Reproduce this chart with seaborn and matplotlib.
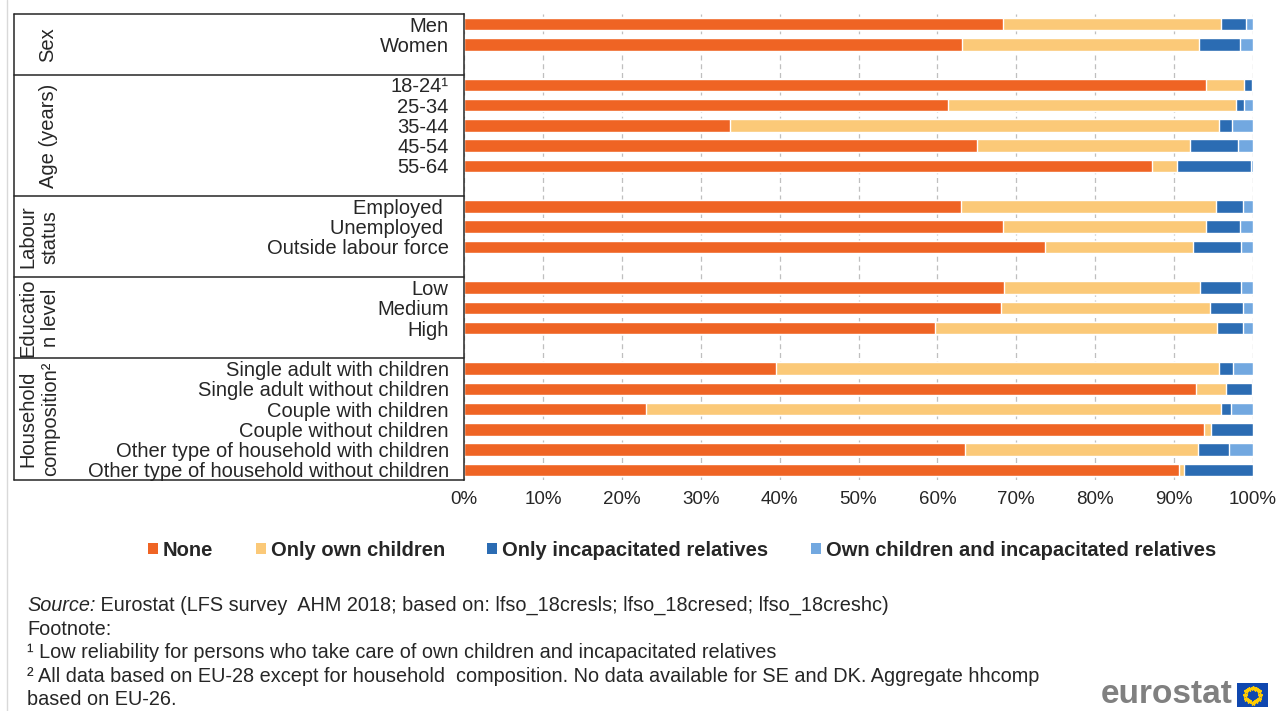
import numpy as np
import pandas as pd
import matplotlib
matplotlib.use("Agg")
import matplotlib.pyplot as plt
import matplotlib.transforms as mtransforms
from matplotlib.lines import Line2D
from matplotlib.patches import Patch, Rectangle
import seaborn as sns

# ---- data -------------------------------------------------------------
group_titles = ["Sex", "Age (years)", "Labour\nstatus", "Educatio\nn level",
                "Household\ncomposition²"]
sex = ["Men", "Women"]
age = ["18-24¹", "25-34", "35-44", "45-54", "55-64"]
labour = ["Employed ", "Unemployed ", "Outside labour force"]
education = ["Low", "Medium", "High"]
household = ["Single adult with children", "Single adult without children",
             "Couple with children", "Couple without children",
             "Other type of household with children",
             "Other type of household without children"]
group_members = [sex, age, labour, education, household]

series_names = ["None", "Only own children", "Only incapacitated relatives",
                "Own children and incapacitated relatives"]
series_colors = ["#EF6424", "#FBC978", "#2B6CB3", "#72A8E0"]

none_share = [68.3, 63.1, 94.1, 61.3, 33.7, 65.0, 87.2, 63.0, 68.3, 73.7,
              68.5, 68.0, 59.7, 39.6, 92.8, 23.1, 93.8, 63.5, 90.6]
own_children = [27.6, 30.0, 4.8, 36.6, 62.0, 27.0, 3.2, 32.3, 25.8, 18.7,
                24.8, 26.6, 35.7, 56.1, 3.8, 72.8, 0.9, 29.5, 0.7]
incapacitated = [3.2, 5.3, 1.0, 1.0, 1.7, 6.1, 9.3, 3.4, 4.3, 6.1,
                 5.2, 4.1, 3.3, 1.8, 3.3, 1.3, 5.3, 4.0, 8.7]
children_and_relatives = [0.9, 1.6, 0.1, 1.1, 2.6, 1.9, 0.3, 1.3, 1.6, 1.5,
                          1.5, 1.3, 1.3, 2.5, 0.1, 2.8, 0.0, 3.0, 0.0]

x_ticks = [0, 10, 20, 30, 40, 50, 60, 70, 80, 90, 100]
x_tick_labels = [f"{t}%" for t in x_ticks]

source_note = "Eurostat (LFS survey  AHM 2018; based on: lfso_18cresls; lfso_18cresed; lfso_18creshc)"
footnotes = ["Footnote:",
             "¹ Low reliability for persons who take care of own children and incapacitated relatives",
             "² All data based on EU-28 except for household  composition. No data available for SE and DK. Aggregate hhcomp",
             "based on EU-26."]

# ---- long table with stacked (cumulative) ends ------------------------
categories = [c for g in group_members for c in g]
values = np.array([none_share, own_children, incapacitated, children_and_relatives])
cumulative = values.cumsum(axis=0)
rows = []
for s, name in enumerate(series_names):
    for c, cat in enumerate(categories):
        rows.append({"category": cat, "series": name, "end": cumulative[s, c]})
df = pd.DataFrame(rows)

# category order with an empty slot after each group
order = []
spans = []
for i, members in enumerate(group_members):
    start = len(order)
    order += members
    if i < len(group_members) - 1:
        order.append(f"__gap{i}")
    spans.append((start - 0.5, len(order) - 0.5))

# ---- figure -----------------------------------------------------------
sns.set_style("white")
plt.rcParams["font.family"] = ["Liberation Sans", "DejaVu Sans"]
TEXT = "#262626"
LABEL_SIZE = 14.5

W, H = 1281, 711
fig = plt.figure(figsize=(W / 100, H / 100), dpi=100)
ax = fig.add_axes([464 / W, 1 - 480 / H, (1253 - 464) / W, (480 - 14) / H])

# longest cumulative segment first, so each shorter one sits on top
for name, color in reversed(list(zip(series_names, series_colors))):
    sns.barplot(data=df[df["series"] == name], x="end", y="category",
                order=order, orient="h", color=color, saturation=1,
                width=0.62, errorbar=None, ax=ax)

ax.set_xlim(0, 100)
ax.set_ylim(len(order) - 0.5, -0.5)
ax.set_xlabel("")
ax.set_ylabel("")
ax.set_xticks(x_ticks)
ax.set_xticklabels(x_tick_labels, fontsize=13.5, color=TEXT)
ax.set_yticks(range(len(order)))
ax.set_yticklabels(["" if o.startswith("__gap") else o for o in order],
                   fontsize=LABEL_SIZE, color=TEXT)
ax.tick_params(axis="y", length=0, pad=11)
ax.tick_params(axis="x", length=0, pad=8)
ax.set_axisbelow(True)
ax.grid(axis="x", color="#BFBFBF", linestyle=(0, (4, 3)), linewidth=0.9)
ax.grid(axis="y", visible=False)
for side in ["top", "right", "bottom"]:
    ax.spines[side].set_visible(False)
ax.spines["left"].set_color("#262626")
ax.spines["left"].set_linewidth(1.1)

# ---- group table on the left -----------------------------------------
blend = mtransforms.blended_transform_factory(fig.transFigure, ax.transData)
x_left, x_right = 14 / W, 464 / W
bounds = sorted({b for span in spans for b in span})
for b in bounds:
    fig.add_artist(Line2D([x_left, x_right], [b, b], transform=blend,
                          color="#262626", linewidth=1.1))
fig.add_artist(Line2D([x_left, x_left], [bounds[0], bounds[-1]], transform=blend,
                      color="#262626", linewidth=1.1))
for title, (lo, hi) in zip(group_titles, spans):
    xc = 39 / W if "\n" in title else 48 / W
    fig.text(xc, (lo + hi) / 2, title, transform=blend, rotation=90,
             ha="center", va="center", multialignment="center",
             fontsize=LABEL_SIZE, color=TEXT, linespacing=1.25)

# faint page border on the left
fig.add_artist(Line2D([7 / W, 7 / W], [0, 1], color="#D9D9D9", linewidth=1.0))

# ---- legend -----------------------------------------------------------
handles = [Patch(facecolor=c, edgecolor="none") for c in series_colors]
fig.legend(handles, series_names, loc="center", ncol=4,
           bbox_to_anchor=(682 / W, 1 - 550 / H), frameon=False,
           prop={"weight": "bold", "size": 14.5}, handlelength=0.5,
           handleheight=0.5, handletextpad=0.25, columnspacing=2.1,
           labelcolor=TEXT)

# ---- source and footnotes ---------------------------------------------
NOTE_SIZE = 14.3
src = fig.text(27 / W, 1 - 611 / H, "Source:", fontsize=NOTE_SIZE, style="italic",
               color=TEXT, va="baseline")
ax.annotate(" " + source_note, xy=(1, 0), xycoords=src, fontsize=NOTE_SIZE,
            color=TEXT, va="bottom", ha="left", annotation_clip=False)
for line, yb in zip(footnotes, [635, 658, 682, 705]):
    fig.text(27 / W, 1 - yb / H, line, fontsize=NOTE_SIZE, color=TEXT, va="baseline")

# ---- eurostat mark ------------------------------------------------------
fig.text(1233 / W, 1 - 703 / H, "eurostat", fontsize=24, fontweight="bold",
         color="#808080", ha="right", va="baseline")
fx0, fy0, fw, fh = 1237, 683, 31, 24
fig.add_artist(Rectangle((fx0 / W, 1 - (fy0 + fh) / H), fw / W, fh / H,
                         transform=fig.transFigure, facecolor="#0F47AF",
                         edgecolor="none"))
cx, cy, r = fx0 + fw / 2, fy0 + fh / 2, 7.5
ang = np.linspace(0, 2 * np.pi, 12, endpoint=False)
fig.add_artist(Line2D((cx + r * np.cos(ang)) / W, 1 - (cy + r * np.sin(ang)) / H,
                      linestyle="none", marker="*", markersize=3.2,
                      color="#FFCC00", transform=fig.transFigure))

fig.savefig("out.png", dpi=100)
